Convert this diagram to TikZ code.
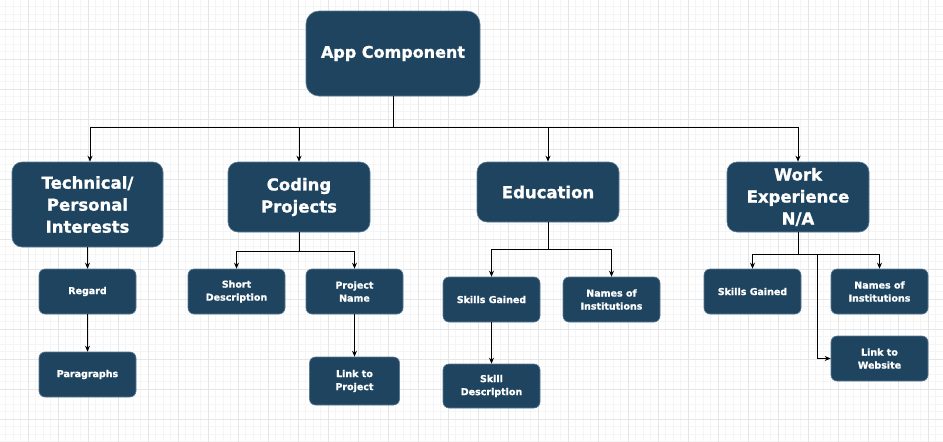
\documentclass[tikz,border=0pt]{standalone}
\usepackage{fontspec}
\setmainfont{DejaVu Sans}[BoldFeatures={FakeBold=1.2}]
\usetikzlibrary{arrows.meta}

\definecolor{boxblue}{HTML}{1E4460}
\definecolor{boxedge}{HTML}{5C7C94}
\definecolor{gridmajor}{HTML}{E6E6E6}
\definecolor{gridminor}{HTML}{F5F5F5}

\tikzset{
  basebox/.style={fill=boxblue, draw=boxedge, line width=0.6pt, text=white, align=center, inner sep=0pt},
  topbox/.style={basebox, rounded corners=13pt, font=\bfseries\fontsize{16}{22}\selectfont},
  groupbox/.style={basebox, rounded corners=10pt, font=\bfseries\fontsize{16.5}{22}\selectfont},
  leafbox/.style={basebox, rounded corners=6pt, minimum width=97pt, minimum height=45pt, font=\bfseries\fontsize{9.5}{13}\selectfont},
  link/.style={line width=0.9pt},
  arrowlink/.style={link, -{Stealth[length=6pt,width=5pt]}}
}

\begin{document}
\begin{tikzpicture}[x=1pt, y=-1pt]
    % Kertas bergaris
    \useasboundingbox (0,0) rectangle (943,442);
    \fill[white] (0,0) rectangle (943,442);
    \foreach \x in {5.5,13,...,943} \draw[gridminor, line width=0.6pt] (\x,0) -- (\x,442);
    \foreach \y in {6.5,14,...,442} \draw[gridminor, line width=0.6pt] (0,\y) -- (943,\y);
    \foreach \x in {28,58,...,943} \draw[gridmajor, line width=0.8pt] (\x,0) -- (\x,442);
    \foreach \y in {29,59,...,442} \draw[gridmajor, line width=0.8pt] (0,\y) -- (943,\y);

    % Komponen utama
    \node[topbox, minimum width=174pt, minimum height=85pt] (app) at (393,53.5) {App Component};

    % Kelompok di bawahnya
    \node[groupbox, minimum width=151pt, minimum height=85pt] (tech) at (87.5,204.5) {Technical/\\Personal\\Interests};
    \node[groupbox, minimum width=142pt, minimum height=70pt] (coding) at (299,197) {Coding\\Projects};
    \node[groupbox, minimum width=142pt, minimum height=60pt] (edu) at (548,192) {Education};
    \node[groupbox, minimum width=142pt, minimum height=70pt] (work) at (798,197) {Work\\Experience\\N/A};

    % Daun: Technical/Personal Interests
    \node[leafbox] (regard) at (87.5,291.5) {Regard};
    \node[leafbox] (para) at (87.5,374.5) {Paragraphs};

    % Daun: Coding Projects
    \node[leafbox] (shortdesc) at (236.5,291.5) {Short\\Description};
    \node[leafbox] (projname) at (354.5,291.5) {Project\\Name};
    \node[leafbox, minimum width=90pt, minimum height=48pt] (projlink) at (354.5,381) {Link to\\Project};

    % Daun: Education
    \node[leafbox] (eduskills) at (491.5,299.5) {Skills Gained};
    \node[leafbox] (eduinst) at (611.5,299.5) {Names of\\Institutions};
    \node[leafbox, minimum height=44pt] (skilldesc) at (491.5,386) {Skill\\Description};

    % Daun: Work Experience
    \node[leafbox] (workskills) at (752.5,291.5) {Skills Gained};
    \node[leafbox] (workinst) at (879.5,291.5) {Names of\\Institutions};
    \node[leafbox] (website) at (879.5,358.5) {Link to\\Website};

    % Garis dari komponen utama
    \coordinate (appbus) at (393.5,127);
    \draw[line width=1.8pt] (app.south -| appbus) -- (appbus);
    \draw[arrowlink] (appbus) -| (tech.north -| 90,0);
    \draw[arrowlink] (appbus) -| (coding.north);
    \draw[arrowlink] (appbus) -| (edu.north);
    \draw[arrowlink] (appbus) -| (work.north);

    % Garis tiap kelompok
    \draw[arrowlink] (tech.south) -- (regard.north);
    \draw[arrowlink] (regard.south) -- (para.north);

    \coordinate (codingbus) at (299,251);
    \draw[link] (coding.south) -- (codingbus);
    \draw[arrowlink] (codingbus) -| (shortdesc.north);
    \draw[arrowlink] (codingbus) -| (projname.north);
    \draw[arrowlink] (projname.south) -- (projlink.north);

    \coordinate (edubus) at (548,249);
    \draw[link] (edu.south) -- (edubus);
    \draw[arrowlink] (edubus) -| (eduskills.north);
    \draw[arrowlink] (edubus) -| (eduinst.north);
    \draw[arrowlink] (eduskills.south) -- (skilldesc.north);

    \coordinate (workbus) at (798,254);
    \coordinate (workfork) at (817,254);
    \draw[link] (work.south) -- (workbus);
    \draw[arrowlink] (workbus) -| (workskills.north);
    \draw[arrowlink] (workbus) -| (workinst.north);
    \draw[arrowlink] (workfork) |- (website.west);

\end{tikzpicture}
\end{document}
